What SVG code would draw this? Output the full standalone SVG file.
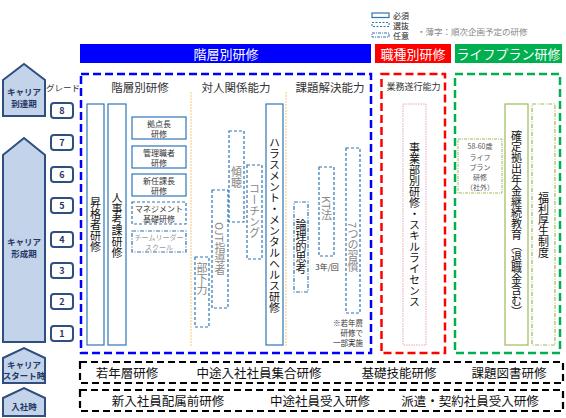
<svg xmlns="http://www.w3.org/2000/svg" width="566" height="418" viewBox="0 0 566 418">
<style>
text{font-family:"Noto Sans CJK JP","Noto Sans",sans-serif;}
.pent{fill:#c3d3ea;stroke:#2f4f7f;stroke-width:2;}
.pt{font-size:8.5px;font-weight:bold;fill:#1f3864;text-anchor:middle;}
.gb{fill:#fff;stroke:#2f4f7f;stroke-width:2;}
.gt{font-size:9px;font-weight:bold;fill:#1f3864;text-anchor:middle;}
.hd{font-size:13px;fill:#fff;text-anchor:middle;}
.sub{font-size:11.5px;fill:#333;text-anchor:middle;}
.req{fill:#fff;stroke:#2e75b6;stroke-width:1.2;}
.sel{fill:#fff;stroke:#2e75b6;stroke-width:1.2;stroke-dasharray:3 2;}
.opt{fill:#fff;stroke:#2e75b6;stroke-width:1.2;stroke-dasharray:4 1.5 1 1.5;}
.vt{font-size:11px;fill:#111;writing-mode:vertical-rl;}
.vg{font-size:11px;fill:#888;writing-mode:vertical-rl;}
.st{font-size:8px;fill:#333;text-anchor:middle;}
.sg{font-size:7px;fill:#999;text-anchor:middle;}
.orl{stroke:#f7c978;stroke-width:1;stroke-dasharray:2 1;}
.bot{fill:#fff;stroke:#000;stroke-width:2.2;stroke-dasharray:7 4;}
.bt{font-size:12.5px;fill:#111;text-anchor:middle;}
.lg{font-size:8px;fill:#222;}
</style>

<!-- legend -->
<g id="legend">
<rect x="372" y="13" width="17" height="4.5" fill="none" stroke="#2e75b6" stroke-width="1.2"/>
<rect x="372" y="22.5" width="17" height="4" fill="none" stroke="#2e75b6" stroke-width="1" stroke-dasharray="2 1.5"/>
<rect x="372" y="33" width="17" height="4" fill="none" stroke="#2e75b6" stroke-width="1" stroke-dasharray="3 1 1 1"/>
<text class="lg" x="393" y="18.5">必須</text>
<text class="lg" x="393" y="28.5">選抜</text>
<text class="lg" x="393" y="38.5">任意</text>
<text x="417" y="35" font-size="8.5" fill="#888">・薄字：順次企画予定の研修</text>
</g>

<!-- header bars -->
<g id="hdr-kaiso"><rect x="80" y="44" width="291" height="19" fill="#0000ff"/><text class="hd" x="226" y="58.5">階層別研修</text></g>
<g id="hdr-shokushu"><rect x="375" y="44" width="76" height="19" fill="#ff0000"/><text class="hd" x="413" y="58.5">職種別研修</text></g>
<g id="hdr-life"><rect x="455" y="44" width="107" height="19" fill="#00b050"/><text class="hd" x="508.5" y="58.5">ライフプラン研修</text></g>

<!-- career stages -->
<g id="stage-toutatsu"><polygon class="pent" points="3,80 24,64 45,80 45,116 3,116"/><text class="pt" x="24" y="95">キャリア</text><text class="pt" x="24" y="106.5">到達期</text></g>
<g id="stage-keisei"><polygon class="pent" points="3,155 24,138 45,155 45,342 3,342"/><text class="pt" x="24" y="245">キャリア</text><text class="pt" x="24" y="256.5">形成期</text></g>
<g id="stage-start"><polygon class="pent" points="3,358 24,348 45,358 45,383 3,383"/><text class="pt" x="24" y="368" font-size="7">キャリア</text><text class="pt" x="24" y="378.5" font-size="7">スタート時</text></g>
<g id="stage-nyusha"><polygon class="pent" points="3,398 24,388 45,398 45,416 3,416"/><text class="pt" x="24" y="410">入社時</text></g>

<!-- grades -->
<g id="grades">
<text x="63" y="91" font-size="8.5" fill="#333" text-anchor="middle">グレード</text>
<g id="g8"><rect class="gb" x="51" y="103" width="22" height="15" rx="3"/><text class="gt" x="62" y="114">8</text></g>
<g id="g7"><rect class="gb" x="51" y="135" width="22" height="15" rx="3"/><text class="gt" x="62" y="146">7</text></g>
<g id="g6"><rect class="gb" x="51" y="167" width="22" height="15" rx="3"/><text class="gt" x="62" y="178">6</text></g>
<g id="g5"><rect class="gb" x="51" y="198" width="22" height="15" rx="3"/><text class="gt" x="62" y="209">5</text></g>
<g id="g4"><rect class="gb" x="51" y="232" width="22" height="15" rx="3"/><text class="gt" x="62" y="243">4</text></g>
<g id="g3"><rect class="gb" x="51" y="263" width="22" height="15" rx="3"/><text class="gt" x="62" y="274">3</text></g>
<g id="g2"><rect class="gb" x="51" y="294" width="22" height="15" rx="3"/><text class="gt" x="62" y="305">2</text></g>
<g id="g1"><rect class="gb" x="51" y="326" width="22" height="15" rx="3"/><text class="gt" x="62" y="337">1</text></g>
</g>

<!-- big dashed frames -->
<g id="frames">
<rect x="81" y="74" width="290" height="279" fill="none" stroke="#0000ff" stroke-width="2.5" stroke-dasharray="8 4"/>
<rect x="381.5" y="74" width="63.5" height="279" fill="none" stroke="#ff0000" stroke-width="2.5" stroke-dasharray="8 4"/>
<rect x="455" y="74" width="105" height="279" fill="none" stroke="#00b050" stroke-width="2.5" stroke-dasharray="8 4"/>
</g>

<g id="connectors">
<line class="orl" x1="191" y1="92" x2="191" y2="346"/>
<line class="orl" x1="286" y1="92" x2="286" y2="346"/>
</g>

<!-- headings -->
<text class="sub" x="140" y="92">階層別研修</text>
<text class="sub" x="236" y="92">対人関係能力</text>
<text class="sub" x="330" y="92">課題解決能力</text>
<text x="413.5" y="90" font-size="9" fill="#333" text-anchor="middle">業務遂行能力</text>

<!-- 階層別 -->
<g id="shokakusha"><rect class="req" x="87" y="104" width="17" height="241"/><text class="vt" x="95.5" y="197">昇格者研修</text></g>
<g id="jinji"><rect class="req" x="108" y="104" width="18" height="241"/><text class="vt" x="117" y="192">人事考課研修</text></g>
<g id="kyotencho"><rect class="req" x="132" y="117" width="54" height="22"/><text class="st" x="159" y="127">拠点長</text><text class="st" x="159" y="136.5">研修</text></g>
<g id="kanrisyoku"><rect class="req" x="132" y="146" width="54" height="22"/><text class="st" x="159" y="156">管理職者</text><text class="st" x="159" y="165.5">研修</text></g>
<g id="shininkacho"><rect class="req" x="132" y="174" width="54" height="22"/><text class="st" x="159" y="184">新任課長</text><text class="st" x="159" y="193.5">研修</text></g>
<g id="management"><rect class="sel" x="132" y="202" width="54" height="22"/><text class="st" x="159" y="212">マネジメント</text><text class="st" x="159" y="221.5">基礎研修</text></g>
<g id="teamleader"><rect class="opt" x="132" y="231" width="54" height="21"/><text class="sg" x="159" y="239.5">チームリーダー</text><text class="sg" x="159" y="249.5">スクール</text></g>

<!-- 対人関係能力 -->
<g id="bukaryoku"><rect class="sel" x="195" y="257" width="14" height="70"/><text class="vg" x="202" y="262">部下力</text></g>
<g id="ojt"><rect class="sel" x="212" y="190" width="16" height="118"/><text class="vg" x="220" y="222">OJT指導者</text></g>
<g id="keicho"><rect class="sel" x="229" y="131" width="15" height="91"/><text class="vg" x="236.5" y="166">傾聴</text></g>
<g id="coaching"><rect class="sel" x="247" y="165" width="15" height="94"/><text class="vg" x="254.5" y="183">コーチング</text></g>
<g id="harassment"><rect class="req" x="266" y="104" width="17" height="241"/><text class="vt" x="274.5" y="137">ハラスメント・メンタルヘルス研修</text></g>

<!-- 課題解決能力 -->
<g id="ronri"><rect class="opt" x="294" y="202" width="14" height="90"/><text class="vt" x="301" y="219">論理的思考</text></g>
<g id="kt"><rect class="sel" x="319" y="167" width="15" height="89"/><text class="vg" x="326.5" y="196">KT法</text></g>
<text x="327" y="270" font-size="8" fill="#333" text-anchor="middle">3年/回</text>
<g id="habits"><rect class="sel" x="346" y="148" width="14" height="165"/><text class="vg" x="353" y="222">7つの習慣</text></g>
<g id="note" font-size="7.5" fill="#333" text-anchor="end"><text x="363" y="326">※若年層</text><text x="363" y="336">研修で</text><text x="363" y="346">一部実施</text></g>

<!-- 職種別 -->
<g id="jigyobu"><rect x="403" y="104" width="23" height="241" fill="#fff" stroke="#e6a7b8" stroke-width="1" stroke-dasharray="1.5 1"/><text class="vt" x="414.5" y="142">事業部別研修・スキルライセンス</text></g>

<!-- ライフプラン -->
<g id="lifeplan"><rect x="458" y="139" width="44" height="54" fill="#fff" stroke="#9bbb59" stroke-width="1" stroke-dasharray="3 1 1 1"/>
<g font-size="7" fill="#555" text-anchor="middle"><text x="480" y="149">58-60歳</text><text x="480" y="160">ライフ</text><text x="480" y="170">プラン</text><text x="480" y="180">研修</text><text x="480" y="190">（社外）</text></g></g>
<g id="kakutei"><rect x="505" y="104" width="23" height="241" fill="#fff" stroke="#9bbb59" stroke-width="1.2"/><text class="vt" x="516.5" y="130">確定拠出年金継続教育（退職金含む）</text></g>
<g id="fukuri"><rect x="532" y="104" width="23" height="241" fill="#fff" stroke="#9bbb59" stroke-width="1.2" stroke-dasharray="4 1.5 1 1.5"/><text class="vt" x="543.5" y="192">福利厚生制度</text></g>

<!-- bottom rows -->
<g id="row-start"><rect class="bot" x="80" y="362" width="483" height="21"/>
<text class="bt" x="127" y="377.5">若年層研修</text><text class="bt" x="259" y="377.5">中途入社社員集合研修</text><text class="bt" x="399" y="377.5">基礎技能研修</text><text class="bt" x="509" y="377.5">課題図書研修</text></g>
<g id="row-nyusha"><rect class="bot" x="80" y="390" width="483" height="21"/>
<text class="bt" x="168" y="405.5">新入社員配属前研修</text><text class="bt" x="320" y="405.5">中途社員受入研修</text><text class="bt" x="470" y="405.5">派遣・契約社員受入研修</text></g>
</svg>
